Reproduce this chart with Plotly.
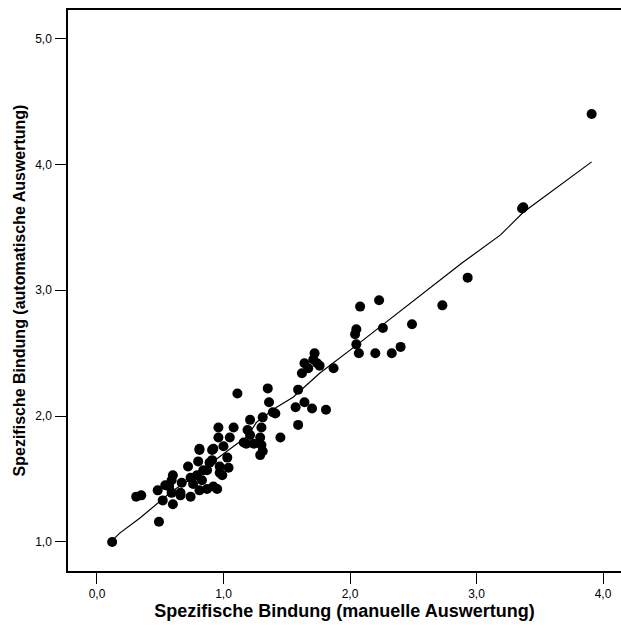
import plotly.graph_objects as go

# Scatter data: manual (x) vs automatic (y) specific binding
manuell = [0.12, 0.49, 0.31, 0.35, 0.48, 0.54, 0.52, 0.60, 0.59, 0.60, 0.59, 0.57, 0.67, 0.66,
           0.74, 0.72, 0.74, 0.80, 0.81, 0.83, 0.81, 0.84, 0.89, 0.92, 0.91, 0.97, 0.79, 1.11,
           1.35, 1.36, 1.31, 1.39, 1.45, 1.21, 1.19, 1.21, 1.16, 1.29, 1.30, 1.31, 1.29, 0.96,
           1.08, 1.05, 0.96, 1.00, 0.92, 0.81, 0.91, 1.03, 1.04, 0.97, 0.87, 0.99, 1.59, 1.72,
           1.64, 1.67, 1.62, 1.74, 1.57, 1.64, 1.70, 2.08, 2.23, 2.05, 2.04, 2.26, 2.05, 2.07,
           2.20, 2.33, 2.40, 1.71, 1.76, 1.87, 1.81, 2.93, 2.73, 2.49, 1.59, 1.30, 1.41, 3.91,
           3.37, 3.36, 0.95, 0.87, 0.76, 1.18, 1.24, 0.66]
automatisch = [1.00, 1.16, 1.36, 1.37, 1.41, 1.45, 1.33, 1.30, 1.39, 1.53, 1.49, 1.44, 1.47, 1.39,
               1.36, 1.60, 1.51, 1.64, 1.73, 1.49, 1.41, 1.57, 1.63, 1.44, 1.73, 1.55, 1.53, 2.18,
               2.22, 2.11, 1.99, 2.03, 1.83, 1.97, 1.89, 1.85, 1.79, 1.83, 1.77, 1.72, 1.69, 1.91,
               1.91, 1.83, 1.83, 1.76, 1.74, 1.74, 1.65, 1.67, 1.59, 1.60, 1.57, 1.53, 2.21, 2.50,
               2.42, 2.38, 2.34, 2.42, 2.07, 2.11, 2.06, 2.87, 2.92, 2.69, 2.65, 2.70, 2.57, 2.50,
               2.50, 2.50, 2.55, 2.45, 2.40, 2.38, 2.05, 3.10, 2.88, 2.73, 1.93, 1.91, 2.02, 4.40,
               3.66, 3.65, 1.42, 1.42, 1.46, 1.78, 1.78, 1.37]

# Smoothed fit line
fit_x = [0.12, 0.18, 0.34, 0.46, 0.59, 0.80, 0.88, 1.08, 1.19, 1.26, 1.42, 1.55, 1.76, 2.06,
         2.34, 2.40, 2.71, 2.89, 3.19, 3.37, 3.91]
fit_y = [1.01, 1.07, 1.19, 1.29, 1.40, 1.54, 1.61, 1.76, 1.84, 1.95, 2.07, 2.15, 2.34, 2.57,
         2.79, 2.83, 3.08, 3.22, 3.44, 3.62, 4.02]

x_title = "Spezifische Bindung (manuelle Auswertung)"
y_title = "Spezifische Bindung (automatische Auswertung)"

fig = go.Figure()
fig.add_trace(go.Scatter(x=fit_x, y=fit_y, mode="lines",
                         line=dict(color="black", width=1.2), hoverinfo="skip"))
fig.add_trace(go.Scatter(x=manuell, y=automatisch, mode="markers",
                         marker=dict(color="black", size=10, line=dict(width=0))))

font_family = "Liberation Sans, Arial, sans-serif"
fig.update_layout(
    width=621, height=628,
    margin=dict(l=68, r=0, t=10, b=57),
    paper_bgcolor="white", plot_bgcolor="white",
    showlegend=False,
    separators=",.",
    font=dict(family=font_family, color="black", size=12),
    xaxis=dict(range=[-0.229, 4.142], tickvals=[0, 1, 2, 3, 4], tickformat=".1f",
               showgrid=False, zeroline=False, showline=True, linecolor="black", linewidth=1.5,
               mirror=True, ticks="outside", ticklen=11, tickwidth=1, tickcolor="black",
               tickfont=dict(size=12),
               title=dict(text=x_title, font=dict(size=18, family=font_family, weight="bold"),
                          standoff=4)),
    yaxis=dict(range=[0.769, 5.227], tickvals=[1, 2, 3, 4, 5], tickformat=".1f",
               showgrid=False, zeroline=False, showline=True, linecolor="black", linewidth=1.5,
               ticks="outside", ticklen=11, tickwidth=1, tickcolor="black",
               tickfont=dict(size=12), ticklabelstandoff=1,
               title=dict(text=y_title, font=dict(size=16, family=font_family, weight="bold"),
                          standoff=6)),
)

fig.write_html("out.html")
